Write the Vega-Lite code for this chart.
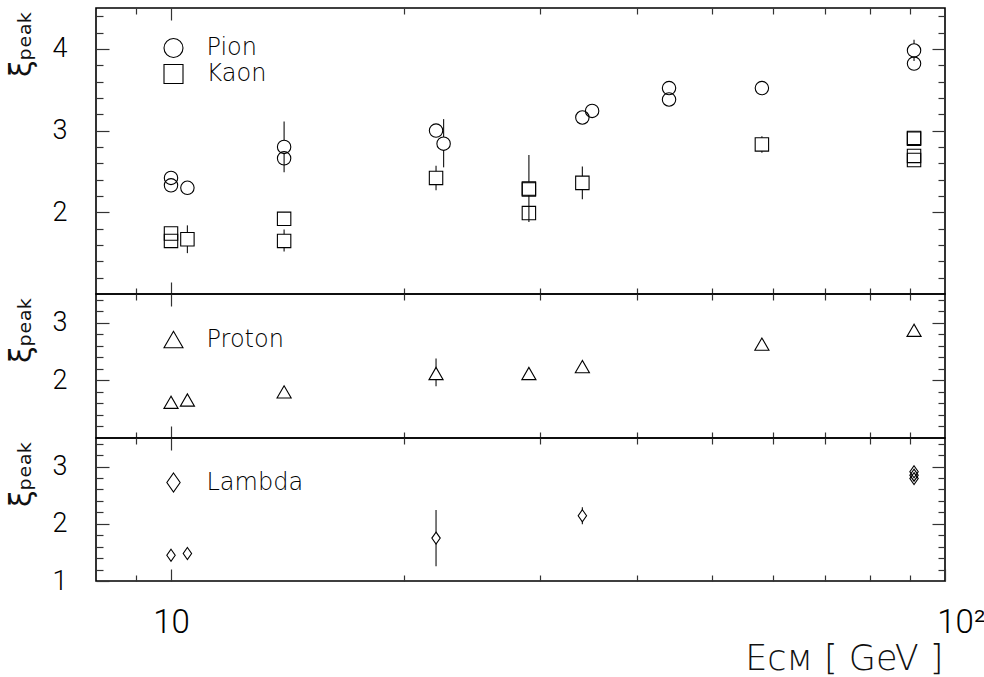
{
  "$schema": "https://vega.github.io/schema/vega-lite/v6.json",
  "padding": {"left": 5, "top": 6, "right": 0, "bottom": 0},
  "background": "white",
  "spacing": 0,
  "bounds": "flush",
  "datasets": {
    "pts": [
      {"panel": "top", "species": "Pion", "E": 10, "xi": 2.42},
      {"panel": "top", "species": "Pion", "E": 10, "xi": 2.33},
      {"panel": "top", "species": "Pion", "E": 10.5, "xi": 2.30},
      {"panel": "top", "species": "Pion", "E": 14, "xi": 2.80, "lo": 2.49, "hi": 3.11},
      {"panel": "top", "species": "Pion", "E": 14, "xi": 2.66},
      {"panel": "top", "species": "Pion", "E": 22, "xi": 3.00},
      {"panel": "top", "species": "Pion", "E": 22.5, "xi": 2.84, "lo": 2.55, "hi": 3.14},
      {"panel": "top", "species": "Pion", "E": 34, "xi": 3.16},
      {"panel": "top", "species": "Pion", "E": 35, "xi": 3.24},
      {"panel": "top", "species": "Pion", "E": 44, "xi": 3.52},
      {"panel": "top", "species": "Pion", "E": 44, "xi": 3.38},
      {"panel": "top", "species": "Pion", "E": 58, "xi": 3.52},
      {"panel": "top", "species": "Pion", "E": 91.2, "xi": 3.98, "lo": 3.85, "hi": 4.11},
      {"panel": "top", "species": "Pion", "E": 91.2, "xi": 3.82},
      {"panel": "top", "species": "Kaon", "E": 10, "xi": 1.74},
      {"panel": "top", "species": "Kaon", "E": 10, "xi": 1.65},
      {"panel": "top", "species": "Kaon", "E": 10.5, "xi": 1.67, "lo": 1.50, "hi": 1.84},
      {"panel": "top", "species": "Kaon", "E": 14, "xi": 1.92, "lo": 1.84, "hi": 2.00},
      {"panel": "top", "species": "Kaon", "E": 14, "xi": 1.65, "lo": 1.52, "hi": 1.79},
      {"panel": "top", "species": "Kaon", "E": 22, "xi": 2.42, "lo": 2.27, "hi": 2.57},
      {"panel": "top", "species": "Kaon", "E": 29, "xi": 2.29, "lo": 1.88, "hi": 2.70},
      {"panel": "top", "species": "Kaon", "E": 29, "xi": 2.28},
      {"panel": "top", "species": "Kaon", "E": 29, "xi": 1.99},
      {"panel": "top", "species": "Kaon", "E": 34, "xi": 2.36, "lo": 2.16, "hi": 2.56},
      {"panel": "top", "species": "Kaon", "E": 58, "xi": 2.83, "lo": 2.73, "hi": 2.93},
      {"panel": "top", "species": "Kaon", "E": 91.2, "xi": 2.91},
      {"panel": "top", "species": "Kaon", "E": 91.2, "xi": 2.90},
      {"panel": "top", "species": "Kaon", "E": 91.2, "xi": 2.69},
      {"panel": "top", "species": "Kaon", "E": 91.2, "xi": 2.64},
      {"panel": "mid", "species": "Proton", "E": 10, "xi": 1.62},
      {"panel": "mid", "species": "Proton", "E": 10.5, "xi": 1.66},
      {"panel": "mid", "species": "Proton", "E": 14, "xi": 1.80},
      {"panel": "mid", "species": "Proton", "E": 22, "xi": 2.12, "lo": 1.90, "hi": 2.38},
      {"panel": "mid", "species": "Proton", "E": 29, "xi": 2.12},
      {"panel": "mid", "species": "Proton", "E": 34, "xi": 2.24},
      {"panel": "mid", "species": "Proton", "E": 58, "xi": 2.63},
      {"panel": "mid", "species": "Proton", "E": 91.2, "xi": 2.87},
      {"panel": "bot", "species": "Lambda", "E": 10, "xi": 1.45},
      {"panel": "bot", "species": "Lambda", "E": 10.5, "xi": 1.48},
      {"panel": "bot", "species": "Lambda", "E": 22, "xi": 1.75, "lo": 1.26, "hi": 2.24},
      {"panel": "bot", "species": "Lambda", "E": 34, "xi": 2.14, "lo": 1.99, "hi": 2.29},
      {"panel": "bot", "species": "Lambda", "E": 91.2, "xi": 2.79},
      {"panel": "bot", "species": "Lambda", "E": 91.2, "xi": 2.85},
      {"panel": "bot", "species": "Lambda", "E": 91.2, "xi": 2.91}
    ]
  },
  "vconcat": [
    {
      "width": 849,
      "height": 286,
      "data": {"name": "pts"},
      "transform": [{"filter": "datum.panel == 'top'"}],
      "layer": [
        {
          "transform": [{"filter": "datum.hi != null"}],
          "mark": {"type": "rule", "color": "#222", "strokeWidth": 1.2},
          "encoding": {
            "x": {"field": "E", "type": "quantitative", "scale": {"type": "log", "domain": [8, 100], "nice": false},
              "axis": {"orient": "top", "values": [9, 10, 20, 30, 40, 50, 60, 70, 80, 90], "labels": false, "title": null,
                "tickSize": {"condition": {"test": "datum.value == 10", "value": -12}, "value": -6}}},
            "y": {"field": "lo", "type": "quantitative", "scale": {"domain": [1, 4.5], "nice": false, "zero": false},
              "axis": {"orient": "right", "values": [1.2, 1.4, 1.6, 1.8, 2, 2.2, 2.4, 2.6, 2.8, 3, 3.2, 3.4, 3.6, 3.8, 4, 4.2, 4.4], "labels": false, "title": null,
                "tickSize": {"condition": {"test": "datum.value % 1 == 0", "value": -13}, "value": -7}}},
            "y2": {"field": "hi"}
          }
        },
        {
          "transform": [{"filter": "datum.hi != null && datum.species == 'Pion'"}],
          "mark": {"type": "point", "shape": "circle", "filled": true, "fill": "white", "strokeWidth": 0, "size": 180, "opacity": 1},
          "encoding": {
            "x": {"field": "E", "type": "quantitative", "scale": {"type": "log", "domain": [8, 100], "nice": false}, "axis": null},
            "y": {"field": "xi", "type": "quantitative", "scale": {"domain": [1, 4.5], "nice": false, "zero": false}, "axis": null}
          }
        },
        {
          "transform": [{"filter": "datum.hi != null && datum.species == 'Kaon'"}],
          "mark": {"type": "point", "shape": "square", "filled": true, "fill": "white", "strokeWidth": 0, "size": 180, "opacity": 1},
          "encoding": {
            "x": {"field": "E", "type": "quantitative", "scale": {"type": "log", "domain": [8, 100], "nice": false}, "axis": null},
            "y": {"field": "xi", "type": "quantitative", "scale": {"domain": [1, 4.5], "nice": false, "zero": false}, "axis": null}
          }
        },
        {
          "mark": {"type": "point", "filled": false, "stroke": "black", "strokeWidth": 1.1, "size": 180, "opacity": 1},
          "encoding": {
            "x": {"field": "E", "type": "quantitative", "scale": {"type": "log", "domain": [8, 100], "nice": false},
              "axis": {"orient": "bottom", "values": [9, 10, 20, 30, 40, 50, 60, 70, 80, 90], "labels": false, "title": null,
                "tickSize": {"condition": {"test": "datum.value == 10", "value": -12}, "value": -6}}},
            "y": {"field": "xi", "type": "quantitative", "scale": {"domain": [1, 4.5], "nice": false, "zero": false},
              "axis": {"orient": "left", "values": [1.2, 1.4, 1.6, 1.8, 2, 2.2, 2.4, 2.6, 2.8, 3, 3.2, 3.4, 3.6, 3.8, 4, 4.2, 4.4],
                "labelExpr": "datum.value % 1 == 0 ? format(datum.value, 'd') : ''", "labelPadding": 42,
                "tickSize": {"condition": {"test": "datum.value % 1 == 0", "value": -13}, "value": -7},
                "title": "ξₚₑₐₖ", "titleX": -66, "titleY": 2, "titleAngle": -90, "titleAlign": "right", "titleBaseline": "alphabetic"}},
            "shape": {"field": "species", "type": "nominal",
              "scale": {"domain": ["Pion", "Kaon"], "range": ["circle", "square"]},
              "legend": {"orient": "none", "legendX": 65.5, "legendY": 28}}
          }
        }
      ],
      "resolve": {"axis": {"x": "independent", "y": "independent"}}
    },
    {
      "width": 849,
      "height": 144,
      "data": {"name": "pts"},
      "transform": [{"filter": "datum.panel == 'mid'"}],
      "layer": [
        {
          "transform": [{"filter": "datum.hi != null"}],
          "mark": {"type": "rule", "color": "#222", "strokeWidth": 1.2},
          "encoding": {
            "x": {"field": "E", "type": "quantitative", "scale": {"type": "log", "domain": [8, 100], "nice": false},
              "axis": {"orient": "top", "values": [9, 10, 20, 30, 40, 50, 60, 70, 80, 90], "labels": false, "title": null,
                "tickSize": {"condition": {"test": "datum.value == 10", "value": -12}, "value": -6}}},
            "y": {"field": "lo", "type": "quantitative", "scale": {"domain": [1, 3.5], "nice": false, "zero": false},
              "axis": {"orient": "right", "values": [1.2, 1.4, 1.6, 1.8, 2, 2.2, 2.4, 2.6, 2.8, 3, 3.2, 3.4], "labels": false, "title": null,
                "tickSize": {"condition": {"test": "datum.value % 1 == 0", "value": -13}, "value": -7}}},
            "y2": {"field": "hi"}
          }
        },
        {
          "transform": [{"filter": "datum.hi != null"}],
          "mark": {"type": "point", "shape": "triangle-up", "filled": true, "fill": "white", "strokeWidth": 0, "size": 200, "opacity": 1},
          "encoding": {
            "x": {"field": "E", "type": "quantitative", "scale": {"type": "log", "domain": [8, 100], "nice": false}, "axis": null},
            "y": {"field": "xi", "type": "quantitative", "scale": {"domain": [1, 3.5], "nice": false, "zero": false}, "axis": null}
          }
        },
        {
          "mark": {"type": "point", "filled": false, "stroke": "black", "strokeWidth": 1.1, "size": 200, "opacity": 1},
          "encoding": {
            "x": {"field": "E", "type": "quantitative", "scale": {"type": "log", "domain": [8, 100], "nice": false},
              "axis": {"orient": "bottom", "values": [9, 10, 20, 30, 40, 50, 60, 70, 80, 90], "labels": false, "title": null,
                "tickSize": {"condition": {"test": "datum.value == 10", "value": -12}, "value": -6}}},
            "y": {"field": "xi", "type": "quantitative", "scale": {"domain": [1, 3.5], "nice": false, "zero": false},
              "axis": {"orient": "left", "values": [1.2, 1.4, 1.6, 1.8, 2, 2.2, 2.4, 2.6, 2.8, 3, 3.2, 3.4],
                "labelExpr": "datum.value % 1 == 0 ? format(datum.value, 'd') : ''", "labelPadding": 42,
                "tickSize": {"condition": {"test": "datum.value % 1 == 0", "value": -13}, "value": -7},
                "title": "ξₚₑₐₖ", "titleX": -66, "titleY": 2, "titleAngle": -90, "titleAlign": "right", "titleBaseline": "alphabetic"}},
            "shape": {"field": "species", "type": "nominal",
              "scale": {"domain": ["Proton"], "range": ["triangle-up"]},
              "legend": {"orient": "none", "legendX": 65.5, "legendY": 33.5}}
          }
        }
      ],
      "resolve": {"axis": {"x": "independent", "y": "independent"}}
    },
    {
      "width": 849,
      "height": 143,
      "data": {"name": "pts"},
      "transform": [{"filter": "datum.panel == 'bot'"}],
      "layer": [
        {
          "transform": [{"filter": "datum.hi != null"}],
          "mark": {"type": "rule", "color": "#222", "strokeWidth": 1.2},
          "encoding": {
            "x": {"field": "E", "type": "quantitative", "scale": {"type": "log", "domain": [8, 100], "nice": false},
              "axis": {"orient": "top", "values": [9, 10, 20, 30, 40, 50, 60, 70, 80, 90], "labels": false, "title": null,
                "tickSize": {"condition": {"test": "datum.value == 10", "value": -12}, "value": -6}}},
            "y": {"field": "lo", "type": "quantitative", "scale": {"domain": [1, 3.5], "nice": false, "zero": false},
              "axis": {"orient": "right", "values": [1.2, 1.4, 1.6, 1.8, 2, 2.2, 2.4, 2.6, 2.8, 3, 3.2, 3.4], "labels": false, "title": null,
                "tickSize": {"condition": {"test": "datum.value % 1 == 0", "value": -13}, "value": -7}}},
            "y2": {"field": "hi"}
          }
        },
        {
          "transform": [{"filter": "datum.hi != null"}],
          "mark": {"type": "point", "shape": "M0,-1L0.7,0L0,1L-0.7,0Z", "filled": true, "fill": "white", "strokeWidth": 0, "size": 144, "opacity": 1},
          "encoding": {
            "x": {"field": "E", "type": "quantitative", "scale": {"type": "log", "domain": [8, 100], "nice": false}, "axis": null},
            "y": {"field": "xi", "type": "quantitative", "scale": {"domain": [1, 3.5], "nice": false, "zero": false}, "axis": null}
          }
        },
        {
          "mark": {"type": "point", "filled": false, "stroke": "black", "strokeWidth": 1.1, "size": 144, "opacity": 1},
          "encoding": {
            "x": {"field": "E", "type": "quantitative", "scale": {"type": "log", "domain": [8, 100], "nice": false},
              "axis": {"orient": "bottom", "values": [9, 10, 20, 30, 40, 50, 60, 70, 80, 90, 100],
                "labelExpr": "datum.value == 10 ? '10' : datum.value == 100 ? '10²' : ''",
                "labelFontSize": 33, "labelPadding": 37, "labelFlush": false, "labelOverlap": false,
                "labelOffset": {"condition": {"test": "datum.value == 100", "value": 16}, "value": 0},
                "tickSize": {"condition": {"test": "datum.value == 10 || datum.value == 100", "value": -12}, "value": -6},
                "title": "Eᴄᴍ [ GeV ]", "titleFont": "DejaVu Sans", "titleFontWeight": 200, "titleFontSize": 35,
                "titleX": 847, "titleY": 88, "titleAlign": "right", "titleBaseline": "alphabetic"}},
            "y": {"field": "xi", "type": "quantitative", "scale": {"domain": [1, 3.5], "nice": false, "zero": false},
              "axis": {"orient": "left", "values": [1, 1.2, 1.4, 1.6, 1.8, 2, 2.2, 2.4, 2.6, 2.8, 3, 3.2, 3.4],
                "labelExpr": "datum.value % 1 == 0 ? format(datum.value, 'd') : ''", "labelPadding": 42,
                "tickSize": {"condition": {"test": "datum.value % 1 == 0", "value": -13}, "value": -7},
                "title": "ξₚₑₐₖ", "titleX": -66, "titleY": 2, "titleAngle": -90, "titleAlign": "right", "titleBaseline": "alphabetic"}},
            "shape": {"field": "species", "type": "nominal",
              "scale": {"domain": ["Lambda"], "range": ["M0,-1L0.7,0L0,1L-0.7,0Z"]},
              "legend": {"orient": "none", "legendX": 65.5, "legendY": 32.5}}
          }
        }
      ],
      "resolve": {"axis": {"x": "independent", "y": "independent"}}
    }
  ],
  "resolve": {"scale": {"shape": "independent"}, "legend": {"shape": "independent"}},
  "config": {
    "view": {"stroke": "black", "strokeWidth": 1.6},
    "concat": {"spacing": 0},
    "axis": {
      "domain": false, "grid": false,
      "tickColor": "#333", "tickWidth": 1.2,
      "labelFont": "Roboto", "labelFontWeight": 300, "labelFontSize": 27, "labelColor": "#000",
      "titleFont": "DejaVu Sans", "titleFontWeight": "normal", "titleFontSize": 30, "titleColor": "#111"
    },
    "legend": {
      "title": null, "padding": 0, "symbolSize": 361, "symbolStrokeWidth": 1.1, "symbolStrokeColor": "black",
      "labelFont": "DejaVu Sans", "labelFontWeight": 200, "labelFontSize": 24, "labelColor": "#000",
      "labelOffset": 21, "rowPadding": 2
    }
  }
}
